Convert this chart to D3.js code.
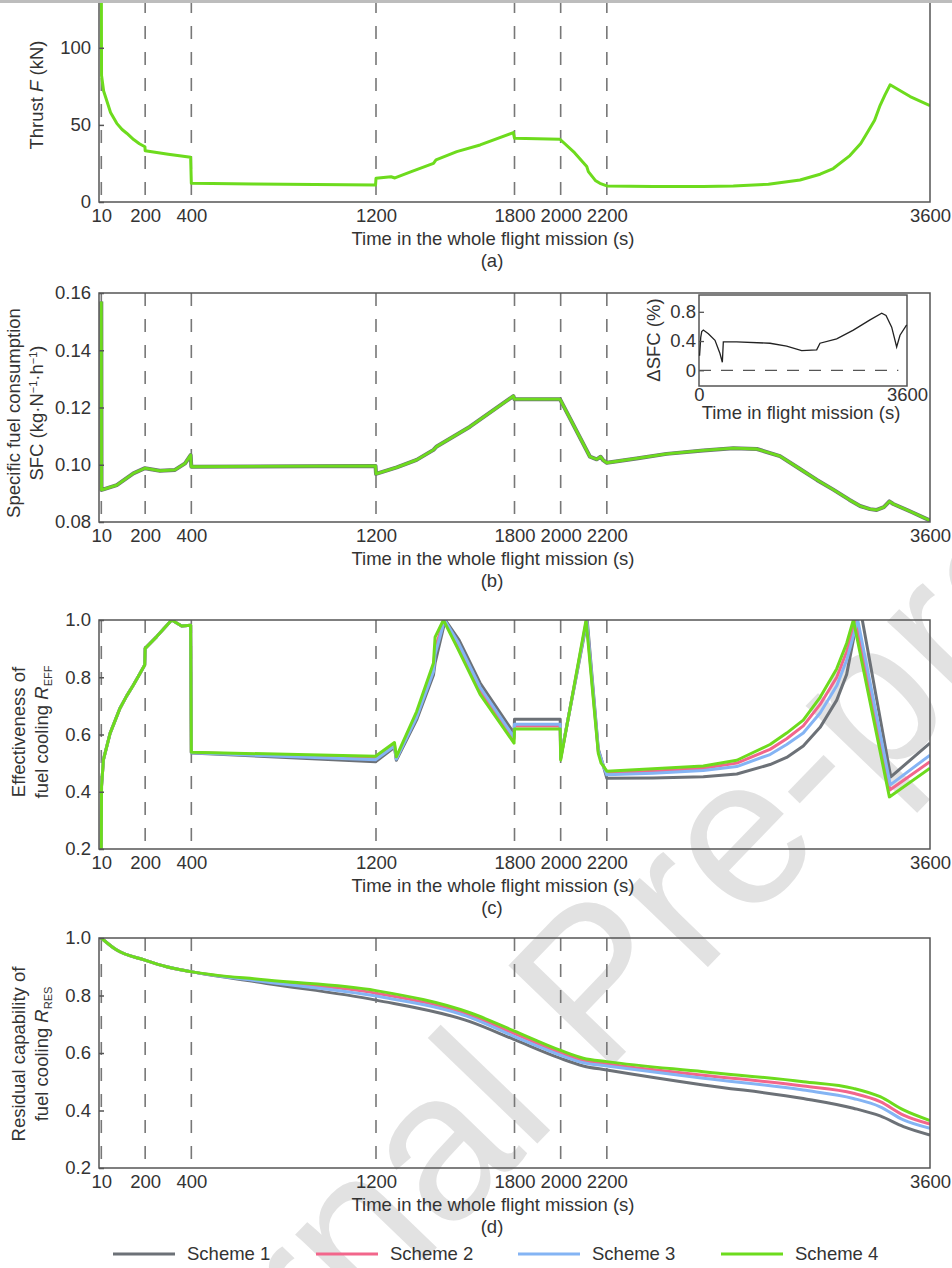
<!DOCTYPE html>
<html>
<head>
<meta charset="utf-8">
<script src="https://cdn.jsdelivr.net/npm/d3@7"></script>
<style>
  body { margin: 0; background: #fff; }
  svg { font-family: "Liberation Sans", Arial, sans-serif; }
</style>
</head>
<body>
<div class="chart"></div>
<script>
"use strict";

const schemes = ["Scheme 1", "Scheme 2", "Scheme 3", "Scheme 4"];
const schemeColors = ["#6c7177", "#f2668b", "#84b4f4", "#6ddb1d"];
const xTicks = [10, 200, 400, 1200, 1800, 2000, 2200, 3600];
const phaseMarks = [10, 200, 400, 1200, 1800, 2000, 2200];

// (a) thrust, kN  [time s, value]
const thrust = [[10,150],[11,82],[20,72],[33,66],[50,58],[77,51],[100,47],[120,44.6],[150,40.5],[175,37.8],[199,35.8],[200,33.3],[300,31],[397,29],[400,12.1],[668,11.7],[1198,11],[1200,15.4],[1265,16.4],[1282,15.6],[1350,19.5],[1449,25],[1460,27.3],[1550,32.7],[1651,37],[1795,45],[1800,41.3],[1997,40.7],[2060,32],[2113,23],[2120,19.7],[2150,14],[2170,12.1],[2200,10.4],[2400,10.1],[2618,10],[2748,10.3],[2900,11.5],[3037,14.3],[3124,18],[3181,21.7],[3253,30.1],[3300,38],[3326,44.4],[3360,53],[3384,62.7],[3405,69.5],[3427,76],[3514,68.4],[3600,62.5]];

// (b) specific fuel consumption
const sfc = [[10,0.157],[11,0.0912],[19,0.0914],[77,0.0929],[149,0.097],[199,0.0988],[264,0.0979],[329,0.0982],[373,0.1005],[397,0.1034],[400,0.0993],[1198,0.0996],[1200,0.0968],[1290,0.0991],[1376,0.1017],[1449,0.1052],[1463,0.1064],[1607,0.1133],[1795,0.124],[1800,0.1229],[1997,0.1229],[2127,0.1028],[2156,0.1019],[2173,0.1028],[2185,0.1015],[2200,0.1007],[2329,0.1022],[2459,0.1038],[2618,0.105],[2748,0.1058],[2850,0.1055],[2950,0.103],[3037,0.0985],[3110,0.0947],[3181,0.0913],[3250,0.0878],[3297,0.0856],[3340,0.0845],[3369,0.0842],[3400,0.0852],[3424,0.0872],[3441,0.0863],[3520,0.0835],[3600,0.0805]];

// (b) inset: delta SFC, %
const dSfc = [[10,0.2],[30,0.45],[47,0.53],[75,0.55],[162,0.5],[277,0.41],[363,0.23],[404,0.11],[421,0.39],[652,0.39],[1229,0.37],[1517,0.33],[1777,0.27],[2037,0.28],[2094,0.37],[2383,0.43],[2671,0.55],[2960,0.69],[3162,0.78],[3237,0.75],[3335,0.59],[3421,0.32],[3479,0.48],[3594,0.62]];

// (c) effectiveness of fuel cooling
const effStart = [[10,0.2],[11,0.42],[19,0.511],[48,0.604],[91,0.692],[120,0.735],[149,0.773],[175,0.81],[198,0.843],[200,0.901],[250,0.942],[315,1.0],[358,0.979],[397,0.982]];
const effS1 = [[400,0.535],[1198,0.505],[1280,0.555],[1288,0.51],[1376,0.651],[1449,0.808],[1456,0.85],[1500,1.0],[1560,0.93],[1651,0.78],[1798,0.604],[1800,0.653],[1998,0.653],[2000,0.52],[2115,1.0],[2163,0.55],[2185,0.49],[2200,0.447],[2400,0.448],[2618,0.452],[2763,0.462],[2907,0.495],[2979,0.52],[3051,0.56],[3124,0.625],[3196,0.72],[3239,0.81],[3282,0.99],[3300,1.03],[3430,0.452],[3600,0.57]];
const effS2 = [[400,0.537],[1198,0.518],[1280,0.565],[1288,0.517],[1376,0.668],[1449,0.83],[1456,0.9],[1495,1.0],[1555,0.915],[1651,0.755],[1798,0.585],[1800,0.63],[1998,0.63],[2000,0.515],[2112,1.0],[2163,0.54],[2185,0.49],[2200,0.464],[2400,0.472],[2618,0.482],[2763,0.5],[2907,0.548],[2979,0.585],[3051,0.63],[3124,0.705],[3196,0.8],[3239,0.89],[3278,1.0],[3426,0.406],[3600,0.505]];
const effS3 = [[400,0.536],[1198,0.512],[1280,0.56],[1288,0.514],[1376,0.66],[1449,0.82],[1456,0.88],[1497,1.0],[1557,0.92],[1651,0.765],[1798,0.59],[1800,0.636],[1998,0.636],[2000,0.517],[2113,1.0],[2163,0.545],[2185,0.49],[2200,0.459],[2400,0.465],[2618,0.474],[2763,0.488],[2907,0.53],[2979,0.565],[3051,0.605],[3124,0.675],[3196,0.77],[3239,0.86],[3287,1.0],[3428,0.424],[3600,0.528]];
const effS4 = [[400,0.538],[1198,0.524],[1280,0.572],[1288,0.522],[1376,0.68],[1449,0.85],[1456,0.94],[1492,1.0],[1550,0.907],[1651,0.74],[1798,0.57],[1800,0.619],[1998,0.619],[2000,0.511],[2110,1.0],[2163,0.534],[2175,0.5],[2185,0.49],[2200,0.472],[2400,0.48],[2618,0.49],[2763,0.51],[2907,0.565],[2979,0.605],[3051,0.65],[3124,0.73],[3196,0.83],[3239,0.919],[3268,1.0],[3424,0.382],[3600,0.482]];

// (d) residual capability of fuel cooling
const resTime = [10,77,199,293,397,726,1200,1607,1795,1997,2098,2200,2618,3051,3268,3384,3485,3600];
const resS1 = [1.0,0.958,0.923,0.9,0.883,0.842,0.784,0.709,0.648,0.582,0.555,0.541,0.489,0.442,0.408,0.381,0.344,0.315];
const resS2 = [1.0,0.958,0.923,0.9,0.883,0.85,0.808,0.732,0.669,0.601,0.574,0.562,0.523,0.485,0.46,0.431,0.384,0.353];
const resS3 = [1.0,0.958,0.923,0.9,0.883,0.847,0.798,0.724,0.659,0.593,0.566,0.555,0.512,0.471,0.442,0.413,0.367,0.338];
const resS4 = [1.0,0.958,0.923,0.9,0.883,0.854,0.817,0.74,0.678,0.61,0.582,0.57,0.535,0.5,0.477,0.448,0.402,0.365];

const W = 952, H = 1268;
const ink = "#333";
const frameCol = "#555";
const fs = 18.5;

const svg = d3.select(".chart").append("svg")
    .attr("width", W)
    .attr("height", H);

svg.append("rect").attr("x", 0).attr("y", 0).attr("width", W).attr("height", H).attr("fill", "#fff");

// watermark
svg.append("text")
    .attr("transform", "translate(645,1032) rotate(-46)")
    .attr("text-anchor", "middle")
    .attr("font-size", 210)
    .attr("fill", "#e2e2e2")
    .text("Journal Pre-proof");

const x = d3.scaleLinear().domain([0, 3600]).range([99, 930]);

function rich(sel, segs, size) {
    let shift = 0;
    segs.forEach(([txt, st]) => {
        const want = st === "sub" ? 4 : st === "sup" ? -6 : 0;
        const ts = sel.append("tspan").attr("dy", want - shift).text(txt);
        shift = want;
        if (st === "i") ts.attr("font-style", "italic");
        if (st === "sub" || st === "sup") ts.attr("font-size", Math.round(size * 0.62));
    });
}

function yTitle(bx, cy, segs) {
    const t = svg.append("text")
        .attr("transform", `translate(${bx},${cy}) rotate(-90)`)
        .attr("text-anchor", "middle")
        .attr("font-size", fs)
        .attr("fill", ink);
    rich(t, segs, fs);
}

function drawPanel(p) {
    const y = d3.scaleLinear().domain(p.domain).range([p.bottom, p.top]);
    const g = svg.append("g");

    const clipId = "clip-" + p.key;
    g.append("clipPath").attr("id", clipId)
        .append("rect")
        .attr("x", x.range()[0]).attr("y", p.top)
        .attr("width", x.range()[1] - x.range()[0])
        .attr("height", p.bottom - p.top);

    g.selectAll(".mark")
        .data(phaseMarks)
        .enter().append("line")
        .attr("x1", d => x(d)).attr("x2", d => x(d))
        .attr("y1", p.top).attr("y2", p.bottom)
        .attr("stroke", "#777")
        .attr("stroke-width", 1.6)
        .attr("stroke-dasharray", "13,13");

    const line = d3.line()
        .x(d => x(d[0]))
        .y(d => y(d[1]))
        .curve(p.curve || d3.curveLinear);

    const lines = g.append("g").attr("clip-path", `url(#${clipId})`);
    p.series.forEach(s => {
        lines.append("path")
            .attr("d", line(s.data))
            .attr("fill", "none")
            .attr("stroke", s.color)
            .attr("stroke-width", s.width || 3)
            .attr("stroke-linejoin", "round");
    });

    g.append("rect")
        .attr("x", x.range()[0]).attr("y", p.top)
        .attr("width", x.range()[1] - x.range()[0])
        .attr("height", p.bottom - p.top)
        .attr("fill", "none")
        .attr("stroke", frameCol)
        .attr("stroke-width", 1.5);

    const yAxis = d3.axisLeft(y)
        .tickValues(p.ticks)
        .tickSize(-5)
        .tickPadding(8)
        .tickFormat(p.fmt);
    const ya = g.append("g")
        .attr("transform", `translate(${x.range()[0]},0)`)
        .call(yAxis);
    ya.select(".domain").remove();
    ya.attr("font-size", fs).attr("font-family", null);
    ya.selectAll("line").attr("stroke", frameCol).attr("stroke-width", 1.5);
    ya.selectAll("text").attr("fill", ink);

    const xAxis = d3.axisBottom(x)
        .tickValues(xTicks)
        .tickSize(0)
        .tickPadding(7)
        .tickFormat(d3.format("d"));
    const xa = g.append("g")
        .attr("transform", `translate(0,${p.bottom})`)
        .call(xAxis);
    xa.select(".domain").remove();
    xa.attr("font-size", fs).attr("font-family", null);
    xa.selectAll("text").attr("fill", ink);

    g.append("text")
        .attr("x", 493).attr("y", p.bottom + 43)
        .attr("text-anchor", "middle")
        .attr("font-size", fs).attr("fill", ink)
        .text("Time in the whole flight mission (s)");
    g.append("text")
        .attr("x", 492).attr("y", p.bottom + 65)
        .attr("text-anchor", "middle")
        .attr("font-size", fs).attr("fill", ink)
        .text(`(${p.key})`);

    return g;
}

// (a)
drawPanel({
    key: "a", top: 0, bottom: 202, domain: [0, 131], ticks: [0, 50, 100], fmt: d3.format("d"),
    series: [{data: thrust, color: schemeColors[3]}]
});
yTitle(43, 95, [["Thrust ", ""], ["F", "i"], [" (kN)", ""]]);

// (b)
drawPanel({
    key: "b", top: 293, bottom: 522, domain: [0.08, 0.16], ticks: [0.08, 0.10, 0.12, 0.14, 0.16], fmt: d3.format(".2f"),
    series: [{data: sfc, color: schemeColors[0], width: 4}, {data: sfc, color: schemeColors[3], width: 2.8}]
});
yTitle(20, 413, [["Specific fuel consumption", ""]]);
yTitle(43, 413, [["SFC (kg·N", ""], ["−1", "sup"], ["·h", ""], ["−1", "sup"], [")", ""]]);

// (b) inset
{
    const ix = d3.scaleLinear().domain([0, 3600]).range([699, 907]);
    const iy = d3.scaleLinear().domain([-0.215, 1.03]).range([386, 295]);
    const g = svg.append("g");
    g.append("rect").attr("x", 699).attr("y", 295).attr("width", 208).attr("height", 91)
        .attr("fill", "#fff").attr("stroke", frameCol).attr("stroke-width", 1.5);
    g.append("line")
        .attr("x1", ix(0)).attr("x2", ix(3450))
        .attr("y1", iy(0)).attr("y2", iy(0))
        .attr("stroke", "#555").attr("stroke-width", 1.3)
        .attr("stroke-dasharray", "12,10");
    g.append("path")
        .attr("d", d3.line().x(d => ix(d[0])).y(d => iy(d[1]))(dSfc))
        .attr("fill", "none").attr("stroke", "#222").attr("stroke-width", 1.3);
    const ya = g.append("g").attr("transform", "translate(699,0)")
        .call(d3.axisLeft(iy).tickValues([0, 0.4, 0.8]).tickSize(-5).tickPadding(3)
            .tickFormat(d => d === 0 ? "0" : d3.format(".1f")(d)));
    ya.select(".domain").remove();
    ya.attr("font-size", fs).attr("font-family", null);
    ya.selectAll("line").attr("stroke", frameCol).attr("stroke-width", 1.3);
    ya.selectAll("text").attr("fill", ink);
    const xa = g.append("g").attr("transform", "translate(0,386)")
        .call(d3.axisBottom(ix).tickValues([0, 3600]).tickSize(0).tickPadding(2)
            .tickFormat(d3.format("d")));
    xa.select(".domain").remove();
    xa.attr("font-size", fs).attr("font-family", null);
    xa.selectAll("text").attr("fill", ink);
    g.append("text").attr("x", 801).attr("y", 419).attr("text-anchor", "middle")
        .attr("font-size", fs).attr("fill", ink).text("Time in flight mission (s)");
    yTitle(660, 340, [["ΔSFC (%)", ""]]);
}

// (c)
drawPanel({
    key: "c", top: 620, bottom: 849, domain: [0.2, 1.0], ticks: [0.2, 0.4, 0.6, 0.8, 1.0], fmt: d3.format(".1f"),
    series: [effS1, effS2, effS3, effS4].map((s, i) => ({data: effStart.concat(s), color: schemeColors[i]}))
});
yTitle(25, 732, [["Effectiveness of", ""]]);
yTitle(48, 732, [["fuel cooling ", ""], ["R", "i"], ["EFF", "sub"]]);

// (d)
drawPanel({
    key: "d", top: 938, bottom: 1168, domain: [0.2, 1.0], ticks: [0.2, 0.4, 0.6, 0.8, 1.0], fmt: d3.format(".1f"),
    curve: d3.curveMonotoneX,
    series: [resS1, resS2, resS3, resS4].map((s, i) => ({data: resTime.map((t, j) => [t, s[j]]), color: schemeColors[i]}))
});
yTitle(25, 1054, [["Residual capability of", ""]]);
yTitle(48, 1054, [["fuel cooling ", ""], ["R", "i"], ["RES", "sub"]]);

// legend
const legendX = [113, 316, 518, 721];
const leg = svg.append("g").selectAll("g")
    .data(schemes)
    .enter().append("g")
    .attr("transform", (d, i) => `translate(${legendX[i]},1254)`);
leg.append("line")
    .attr("x1", 0).attr("x2", 62)
    .attr("stroke", (d, i) => schemeColors[i])
    .attr("stroke-width", 3);
leg.append("text")
    .attr("x", 74).attr("y", 6)
    .attr("font-size", fs).attr("fill", ink)
    .text(d => d);

// strip at the top edge of the page
svg.append("rect").attr("x", 0).attr("y", 0).attr("width", W).attr("height", 3).attr("fill", "#bdbdbd");
</script>
</body>
</html>
